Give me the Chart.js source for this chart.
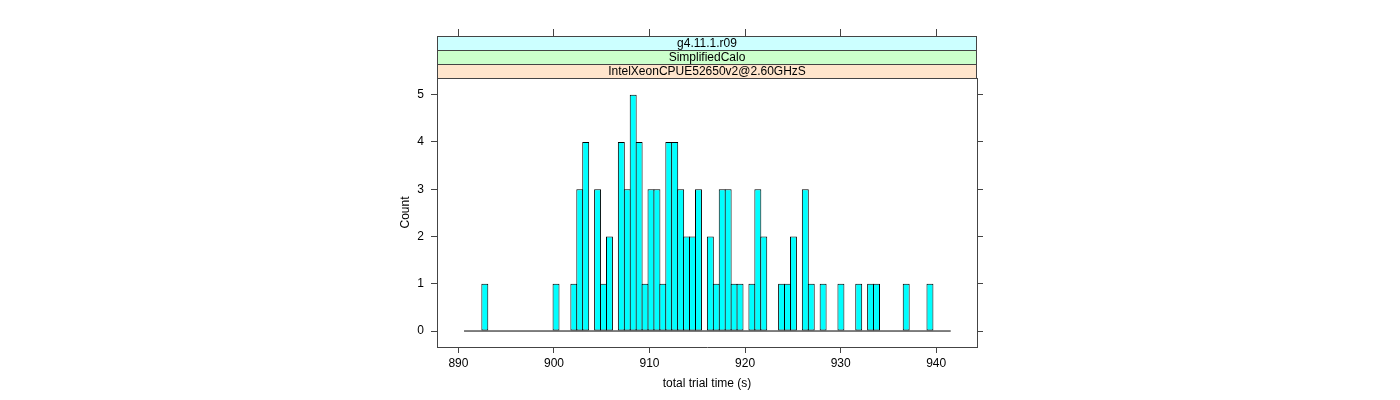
<!DOCTYPE html>
<html>
<head>
<meta charset="utf-8">
<script src="https://cdn.jsdelivr.net/npm/chart.js@4.4.1/dist/chart.umd.min.js"></script>
<style>
	html, body { margin: 0; padding: 0; background: #fff; }
</style>
</head>
<body>
<canvas id="trialChart" width="1400" height="400"></canvas>
<script>
	// Panel strips, top to bottom
	var stripLabels = ['g4.11.1.r09', 'SimplifiedCalo', 'IntelXeonCPUE52650v2@2.60GHzS'];
	var stripColors = ['#ccffff', '#ccffcc', '#ffe5cc'];

	// Axis ticks
	var xTickValues = [890, 900, 910, 920, 930, 940];
	var yTickValues = [0, 1, 2, 3, 4, 5];

	// Histogram breaks: first break and bin width (s)
	var binStart = 890.59;
	var binWidth = 0.6211;

	// Count per bin (82 bins)
	var binCounts = [
		0, 0, 0, 1, 0, 0, 0, 0, 0, 0,
		0, 0, 0, 0, 0, 1, 0, 0, 1, 3,
		4, 0, 3, 1, 2, 0, 4, 3, 5, 4,
		1, 3, 3, 1, 4, 4, 3, 2, 2, 3,
		0, 2, 1, 3, 3, 1, 1, 0, 1, 3,
		2, 0, 0, 1, 1, 2, 0, 3, 1, 0,
		1, 0, 0, 1, 0, 0, 1, 0, 1, 1,
		0, 0, 0, 0, 1, 0, 0, 0, 1, 0,
		0, 0
	];

	var X_MIN = 887.76, X_MAX = 944.27;
	var Y_MIN = -0.338, Y_MAX = 5.353;
	var FONT = '"Liberation Sans", Arial, Helvetica, sans-serif';
	var FRAME = '#444';

	Chart.defaults.font.family = FONT;
	Chart.defaults.font.size = 12;
	Chart.defaults.color = '#000';

	// Bars sit on bin midpoints
	var barData = binCounts.map(function (c, k) {
		return { x: binStart + (k + 0.5) * binWidth, y: c };
	});
	var binEnd = binStart + binCounts.length * binWidth;

	/**
	 * Draws the lattice style strips above the panel
	 */
	var stripPlugin = {
		id: 'strips',
		afterDraw: function (chart) {
			var ctx = chart.ctx, a = chart.chartArea;
			var h = 14;
			ctx.save();
			stripLabels.forEach(function (label, i) {
				var top = Math.round(a.top) - h * (stripLabels.length - i);
				var left = Math.round(a.left), w = Math.round(a.right) - left;
				ctx.fillStyle = stripColors[i];
				ctx.fillRect(left, top, w, h);
				ctx.strokeStyle = FRAME;
				ctx.lineWidth = 1;
				ctx.strokeRect(left + 0.5, top + 0.5, w - 1, h);
				ctx.fillStyle = '#000';
				ctx.font = '12px ' + FONT;
				ctx.textAlign = 'center';
				ctx.textBaseline = 'middle';
				ctx.fillText(label, left + w / 2, top + h / 2 + 1);
			});
			ctx.restore();
		}
	};

	function fixedTicks(values) {
		return function (scale) {
			scale.ticks = values.map(function (v) { return { value: v }; });
		};
	}

	var chartConfig = {
		type: 'bar',
		data: {
			datasets: [
				{
					type: 'line',
					data: [{ x: binStart, y: 0 }, { x: binEnd, y: 0 }],
					borderColor: '#000',
					borderWidth: 1,
					pointRadius: 0,
					tension: 0
				},
				{
					type: 'bar',
					data: barData,
					backgroundColor: '#00ffff',
					borderColor: '#000',
					borderWidth: 1,
					borderSkipped: false,
					barPercentage: 1.17,
					categoryPercentage: 1
				}
			]
		},
		options: {
			responsive: false,
			animation: false,
			devicePixelRatio: 1,
			layout: { padding: { left: 394, right: 417, top: 29, bottom: 5 } },
			plugins: {
				legend: { display: false },
				tooltip: { enabled: false }
			},
			scales: {
				x: {
					type: 'linear',
					position: 'bottom',
					min: X_MIN,
					max: X_MAX,
					offset: false,
					afterBuildTicks: fixedTicks(xTickValues),
					afterFit: function (s) { s.height = 48; },
					grid: { drawOnChartArea: false, tickLength: 6, color: FRAME, offset: false },
					border: { color: FRAME },
					ticks: { padding: 3, maxRotation: 0, autoSkip: false, callback: function (v) { return v; } },
					title: { display: true, text: 'total trial time (s)', padding: 4 }
				},
				xTop: {
					type: 'linear',
					position: 'top',
					min: X_MIN,
					max: X_MAX,
					offset: false,
					afterBuildTicks: fixedTicks(xTickValues),
					afterFit: function (s) { s.height = 49; },
					grid: { drawOnChartArea: false, tickLength: 49, color: FRAME, offset: false },
					border: { color: FRAME },
					ticks: { display: false }
				},
				y: {
					type: 'linear',
					position: 'left',
					min: Y_MIN,
					max: Y_MAX,
					afterBuildTicks: fixedTicks(yTickValues),
					afterFit: function (s) { s.width = 43; },
					grid: { drawOnChartArea: false, tickLength: 6, color: FRAME },
					border: { color: FRAME },
					ticks: { padding: 7 },
					title: { display: true, text: 'Count', padding: 4 }
				},
				yRight: {
					type: 'linear',
					position: 'right',
					min: Y_MIN,
					max: Y_MAX,
					afterBuildTicks: fixedTicks(yTickValues),
					afterFit: function (s) { s.width = 6; },
					grid: { drawOnChartArea: false, tickLength: 6, color: FRAME },
					border: { color: FRAME },
					ticks: { display: false }
				}
			}
		},
		plugins: [stripPlugin]
	};

	var trialChart = new Chart(document.getElementById('trialChart'), chartConfig);
</script>
</body>
</html>
